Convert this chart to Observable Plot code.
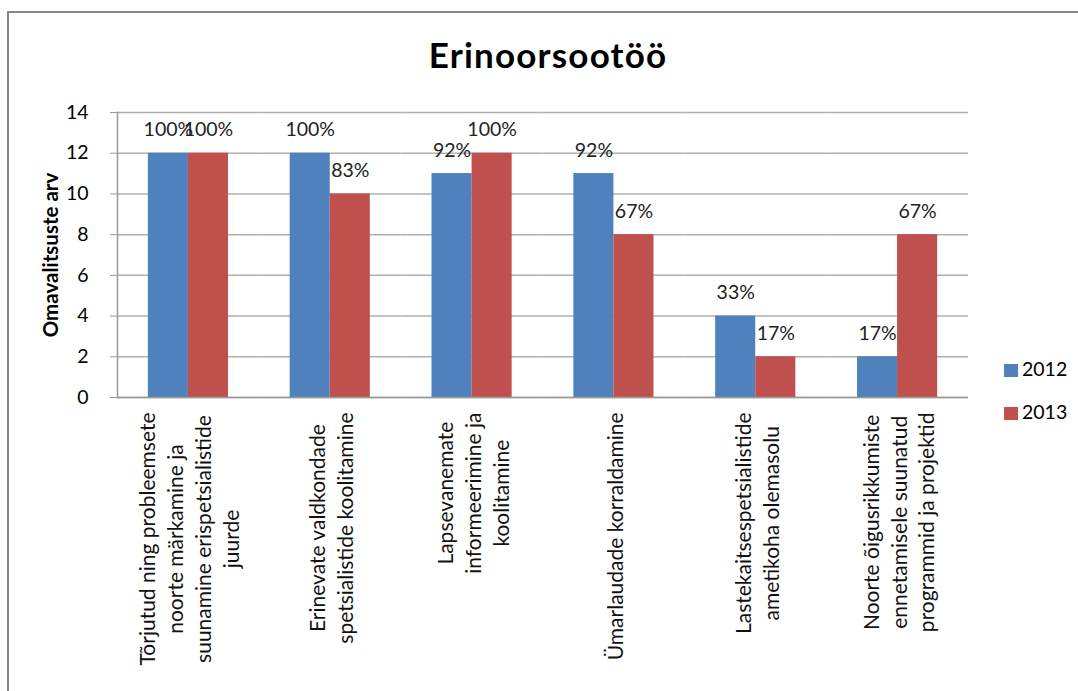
<!DOCTYPE html>
<html><head><meta charset="utf-8">
<script src="https://cdn.jsdelivr.net/npm/d3@7"></script>
<script src="https://cdn.jsdelivr.net/npm/@observablehq/plot@0.6"></script>
<style>
body{margin:0;background:#fff;font-family:Lato,"Open Sans",sans-serif;}
#wrap{position:relative;width:1078px;height:691px;overflow:hidden;background:#fff;}
#frame{position:absolute;left:7px;top:11px;width:1100px;height:720px;border-left:2px solid #878787;border-top:2px solid #878787;}
#title{position:absolute;left:0;top:37px;width:1096px;text-align:center;font-weight:bold;font-size:35px;line-height:35px;letter-spacing:1.2px;color:#000;}
#chart{position:absolute;left:0;top:0;}
.lg{position:absolute;left:1004px;font-size:19.5px;line-height:20px;color:#000;white-space:nowrap;}
.lg span.sw{display:inline-block;width:14px;height:13px;margin-right:4px;vertical-align:-1px;}
</style>
</head><body>
<div id="wrap">
  <div id="frame"></div>
  <div id="chart"></div>
  <div id="title">Erinoorsootöö</div>
  <div id="legend"></div>
</div>
<script>
const categories = [
  "Tõrjutud ning probleemsete noorte märkamine ja suunamine erispetsialistide juurde",
  "Erinevate valdkondade spetsialistide koolitamine",
  "Lapsevanemate informeerimine ja koolitamine",
  "Ümarlaudade korraldamine",
  "Lastekaitsespetsialistide ametikoha olemasolu",
  "Noorte õigusrikkumiste ennetamisele suunatud programmid ja projektid"
];
const categoryLines = [
  "Tõrjutud ning probleemsete\nnoorte märkamine ja\nsuunamine erispetsialistide\njuurde",
  "Erinevate valdkondade\nspetsialistide koolitamine",
  "Lapsevanemate\ninformeerimine ja\nkoolitamine",
  "Ümarlaudade korraldamine",
  "Lastekaitsespetsialistide\nametikoha olemasolu",
  "Noorte õigusrikkumiste\nennetamisele suunatud\nprogrammid ja projektid"
];
const years = ["2012", "2013"];
const values2012 = [12, 12, 11, 11, 4, 2];
const values2013 = [12, 10, 12, 8, 2, 8];
const pct2012 = ["100%", "100%", "92%", "92%", "33%", "17%"];
const pct2013 = ["100%", "83%", "100%", "67%", "17%", "67%"];
const yTicks = [0, 2, 4, 6, 8, 10, 12, 14];
const colors = ["#4F81BD", "#C0504D"];
const yLabel = "Omavalitsuste arv";

const rows = [];
categories.forEach((c, i) => {
  rows.push({cat: c, year: years[0], value: values2012[i], pct: pct2012[i]});
  rows.push({cat: c, year: years[1], value: values2013[i], pct: pct2013[i]});
});
const catRows = categories.map((c, i) => ({cat: c, label: categoryLines[i]}));

const plot = Plot.plot({
  width: 1078, height: 691,
  marginLeft: 117, marginRight: 110, marginTop: 112, marginBottom: 294,
  style: {fontFamily: "Lato, 'Open Sans', sans-serif", fontSize: "19.5px", color: "#000", background: "transparent", overflow: "visible"},
  fx: {domain: categories, padding: 0, axis: null, label: null, round: false},
  x: {domain: years, axis: null, paddingOuter: 0.77, paddingInner: 0, round: false},
  y: {domain: [0, 14], axis: null},
  color: {domain: years, range: colors},
  marks: [
    Plot.ruleY(yTicks, {y: d => d, stroke: "#b0b0b0", strokeWidth: 1.5}),
    Plot.barY(rows, {fx: "cat", x: "year", y: "value", fill: "year"}),
    Plot.ruleY([0], {stroke: "#999", strokeWidth: 1.5}),
    Plot.frame({anchor: "left", stroke: "#999", strokeWidth: 1.5, facetAnchor: "left"}),
    Plot.axisY({ticks: yTicks, tickSize: 7, tickPadding: 22, stroke: "#999", fill: "#000", label: yLabel, labelAnchor: "center", labelOffset: 74, labelArrow: "none"}),
    Plot.text(rows, {fx: "cat", x: "year", y: "value", text: "pct", dy: -23, lineAnchor: "middle", fill: "#222"}),
    Plot.text(catRows, {fx: "cat", text: "label", frameAnchor: "bottom", rotate: -90, textAnchor: "middle", lineAnchor: "middle", lineHeight: 1.33, fontSize: 21, dy: 15, fill: "#111"})
  ]
});
document.getElementById("chart").appendChild(plot);

// bold y-axis title
plot.querySelectorAll("text").forEach(t => {
  if (t.textContent.trim() === yLabel) {
    t.setAttribute("font-weight", "bold");
    t.setAttribute("font-size", "20.5px");
  }
});
// shift rotated category labels so the block's top edge sits below the axis while lines stay centered
const flat = new Set(categoryLines.map(s => s.replace(/\n/g, "")));
plot.querySelectorAll("text").forEach(t => {
  if (!flat.has(t.textContent)) return;
  const L = t.getBBox().width;
  const tr = t.getAttribute("transform") || "";
  t.setAttribute("transform", `translate(0,${L / 2}) ` + tr);
});

// legend
const lg = document.getElementById("legend");
years.forEach((y, i) => {
  const d = document.createElement("div");
  d.className = "lg";
  d.style.top = (359 + i * 43) + "px";
  d.innerHTML = `<span class="sw" style="background:${colors[i]}"></span>${y}`;
  lg.appendChild(d);
});
</script>
</body></html>
